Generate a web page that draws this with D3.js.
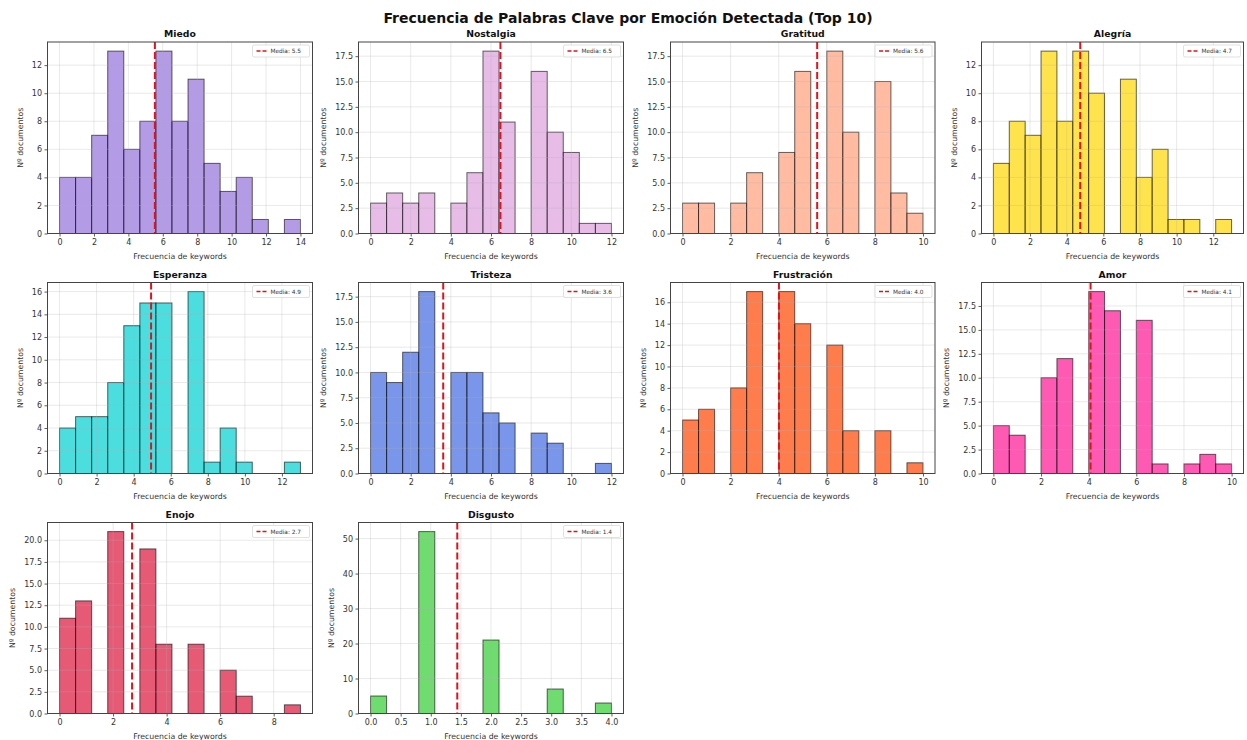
<!DOCTYPE html>
<html>
<head>
<meta charset="utf-8">
<script src="https://cdn.jsdelivr.net/npm/d3@7/dist/d3.min.js"></script>
<style>
  html, body { margin: 0; padding: 0; background: #fff; }
  svg { display: block; font-family: "DejaVu Sans", sans-serif; }
</style>
</head>
<body>
<svg id="chart" width="1247" height="740"></svg>
<script>
// Emotions shown, in panel order (row-major, 4 per row)
const emotions = ["Miedo", "Nostalgia", "Gratitud", "Alegría", "Esperanza",
                  "Tristeza", "Frustración", "Amor", "Enojo", "Disgusto"];

// Histogram counts (15 equal-width bins between the min and max keyword frequency)
const miedoCounts       = [4, 4, 7, 13, 6, 8, 13, 8, 11, 5, 3, 4, 1, 0, 1];
const nostalgiaCounts   = [3, 4, 3, 4, 0, 3, 6, 18, 11, 0, 16, 10, 8, 1, 1];
const gratitudCounts    = [3, 3, 0, 3, 6, 0, 8, 16, 0, 18, 10, 0, 15, 4, 2];
const alegriaCounts     = [5, 8, 7, 13, 8, 13, 10, 0, 11, 4, 6, 1, 1, 0, 1];
const esperanzaCounts   = [4, 5, 5, 8, 13, 15, 15, 0, 16, 1, 4, 1, 0, 0, 1];
const tristezaCounts    = [10, 9, 12, 18, 0, 10, 10, 6, 5, 0, 4, 3, 0, 0, 1];
const frustracionCounts = [5, 6, 0, 8, 17, 0, 17, 14, 0, 12, 4, 0, 4, 0, 1];
const amorCounts        = [5, 4, 0, 10, 12, 0, 19, 17, 0, 16, 1, 0, 1, 2, 1];
const enojoCounts       = [11, 13, 0, 21, 0, 19, 8, 0, 8, 0, 5, 2, 0, 0, 1];
const disgustoCounts    = [5, 0, 0, 52, 0, 0, 0, 21, 0, 0, 0, 7, 0, 0, 3];

const allCounts = [miedoCounts, nostalgiaCounts, gratitudCounts, alegriaCounts, esperanzaCounts,
                   tristezaCounts, frustracionCounts, amorCounts, enojoCounts, disgustoCounts];

// Minimum / maximum keyword frequency per emotion (histogram range)
const freqMin = [0, 0, 0, 0, 0, 0, 0, 0, 0, 0];
const freqMax = [14, 12, 10, 13, 13, 12, 10, 10, 9, 4];

// Mean keyword frequency per emotion
const means = [5.54, 6.47, 5.60, 4.74, 4.94, 3.62, 4.01, 4.08, 2.71, 1.44];

// Tick labels per panel
const xTickLabels = [
  ["0", "2", "4", "6", "8", "10", "12", "14"],
  ["0", "2", "4", "6", "8", "10", "12"],
  ["0", "2", "4", "6", "8", "10"],
  ["0", "2", "4", "6", "8", "10", "12"],
  ["0", "2", "4", "6", "8", "10", "12"],
  ["0", "2", "4", "6", "8", "10", "12"],
  ["0", "2", "4", "6", "8", "10"],
  ["0", "2", "4", "6", "8", "10"],
  ["0", "2", "4", "6", "8"],
  ["0.0", "0.5", "1.0", "1.5", "2.0", "2.5", "3.0", "3.5", "4.0"]
];
const yTickLabels = [
  ["0", "2", "4", "6", "8", "10", "12"],
  ["0.0", "2.5", "5.0", "7.5", "10.0", "12.5", "15.0", "17.5"],
  ["0.0", "2.5", "5.0", "7.5", "10.0", "12.5", "15.0", "17.5"],
  ["0", "2", "4", "6", "8", "10", "12"],
  ["0", "2", "4", "6", "8", "10", "12", "14", "16"],
  ["0.0", "2.5", "5.0", "7.5", "10.0", "12.5", "15.0", "17.5"],
  ["0", "2", "4", "6", "8", "10", "12", "14", "16"],
  ["0.0", "2.5", "5.0", "7.5", "10.0", "12.5", "15.0", "17.5"],
  ["0.0", "2.5", "5.0", "7.5", "10.0", "12.5", "15.0", "17.5", "20.0"],
  ["0", "10", "20", "30", "40", "50"]
];

// Bar colours per emotion
const barColors = ["#9370DB", "#DDA0DD", "#FFA07A", "#FFD700", "#00CED1",
                   "#4169E1", "#FF4500", "#FF1493", "#DC143C", "#32CD32"];

// ---- layout of the 3 x 4 grid ----
const colLeft   = [47.5, 358.5, 670.5, 981.5];
const colRight  = [312.5, 623.5, 935, 1243.5];
const rowTop    = [42, 282.5, 522.5];
const rowBottom = [233.5, 473.5, 713.5];

const svg = d3.select("#chart");

svg.append("text")
  .attr("x", 628).attr("y", 22.5)
  .attr("text-anchor", "middle")
  .attr("font-size", 14).attr("font-weight", "bold")
  .attr("fill", "#111")
  .text("Frecuencia de Palabras Clave por Emoción Detectada (Top 10)");

emotions.forEach((name, i) => {
  const r = Math.floor(i / 4), c = i % 4;
  const left = colLeft[c], right = colRight[c], top = rowTop[r], bottom = rowBottom[r];
  const counts = allCounts[i];
  const lo = freqMin[i], hi = freqMax[i];
  const pad = (hi - lo) * 0.05;
  const nb = counts.length;
  const bw = (hi - lo) / nb;

  const x = d3.scaleLinear().domain([lo - pad, hi + pad]).range([left, right]);
  const y = d3.scaleLinear().domain([0, d3.max(counts) * 1.05]).range([bottom, top]);

  const g = svg.append("g");

  // histogram bars
  const bins = counts.map((v, k) => ({ x0: lo + k * bw, x1: lo + (k + 1) * bw, n: v }))
                     .filter(b => b.n > 0);
  g.selectAll("rect.bar").data(bins).enter().append("rect")
    .attr("class", "bar")
    .attr("x", d => x(d.x0))
    .attr("y", d => y(d.n))
    .attr("width", d => x(d.x1) - x(d.x0))
    .attr("height", d => y(0) - y(d.n))
    .attr("fill", barColors[i]).attr("fill-opacity", 0.7)
    .attr("stroke", "#000").attr("stroke-opacity", 0.6).attr("stroke-width", 1);

  // grid lines
  const xt = xTickLabels[i].map(Number), yt = yTickLabels[i].map(Number);
  g.selectAll("line.gx").data(xt).enter().append("line")
    .attr("x1", d => x(d)).attr("x2", d => x(d))
    .attr("y1", top).attr("y2", bottom)
    .attr("stroke", "#b0b0b0").attr("stroke-opacity", 0.35).attr("stroke-width", 0.8);
  g.selectAll("line.gy").data(yt).enter().append("line")
    .attr("y1", d => y(d)).attr("y2", d => y(d))
    .attr("x1", left).attr("x2", right)
    .attr("stroke", "#b0b0b0").attr("stroke-opacity", 0.35).attr("stroke-width", 0.8);

  // mean line
  g.append("line")
    .attr("x1", x(means[i])).attr("x2", x(means[i]))
    .attr("y1", top).attr("y2", bottom)
    .attr("stroke", "#e0131b").attr("stroke-width", 2)
    .attr("stroke-dasharray", "7,3");

  // axes
  const xAxis = d3.axisBottom(x).tickValues(xt).tickSize(3).tickPadding(2.5)
    .tickFormat((d, k) => xTickLabels[i][k]);
  const yAxis = d3.axisLeft(y).tickValues(yt).tickSize(3).tickPadding(2.5)
    .tickFormat((d, k) => yTickLabels[i][k]);

  const gx = g.append("g").attr("transform", `translate(0,${bottom})`).call(xAxis);
  const gy = g.append("g").attr("transform", `translate(${left},0)`).call(yAxis);
  [gx, gy].forEach(a => {
    a.select(".domain").remove();
    a.selectAll(".tick line").attr("stroke", "#333").attr("stroke-width", 0.8);
    a.selectAll(".tick text").attr("font-size", 8).attr("fill", "#333")
      .attr("font-family", "DejaVu Sans, sans-serif");
  });

  // frame
  g.append("rect")
    .attr("x", left).attr("y", top)
    .attr("width", right - left).attr("height", bottom - top)
    .attr("fill", "none").attr("stroke", "#444").attr("stroke-width", 1);

  // titles and axis labels
  g.append("text")
    .attr("x", (left + right) / 2).attr("y", top - 5)
    .attr("text-anchor", "middle").attr("font-size", 9.3).attr("font-weight", "bold")
    .attr("fill", "#111").text(name);
  g.append("text")
    .attr("x", (left + right) / 2).attr("y", bottom + 25)
    .attr("text-anchor", "middle").attr("font-size", 7.8).attr("fill", "#333")
    .text("Frecuencia de keywords");
  const ylx = left - (yTickLabels[i][yTickLabels[i].length - 1].length > 2 ? 33 : 25);
  g.append("text")
    .attr("transform", `translate(${ylx},${(top + bottom) / 2}) rotate(-90)`)
    .attr("text-anchor", "middle").attr("font-size", 7.8).attr("fill", "#333")
    .text("Nº documentos");

  // legend
  const lw = 57, lh = 12;
  const lx = right - 3 - lw, ly = top + 3;
  const lg = g.append("g");
  lg.append("rect").attr("x", lx).attr("y", ly).attr("width", lw).attr("height", lh)
    .attr("rx", 1.5).attr("fill", "#fff").attr("fill-opacity", 0.85)
    .attr("stroke", "#ccc").attr("stroke-width", 0.6);
  lg.append("line").attr("x1", lx + 4).attr("x2", lx + 14)
    .attr("y1", ly + lh / 2).attr("y2", ly + lh / 2)
    .attr("stroke", "#e0131b").attr("stroke-width", 1.6).attr("stroke-dasharray", "4,2");
  lg.append("text").attr("x", lx + 18).attr("y", ly + lh / 2 + 2)
    .attr("font-size", 5.8).attr("fill", "#333")
    .text("Media: " + means[i].toFixed(1));
});
</script>
</body>
</html>
